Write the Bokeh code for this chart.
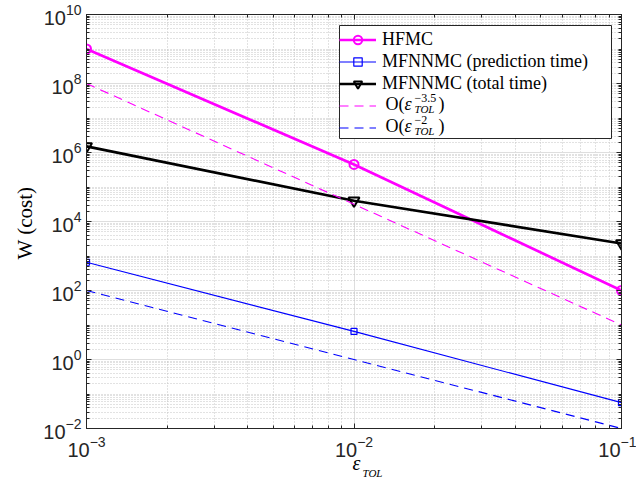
from bokeh.plotting import figure
from bokeh.models import (LogAxis, FixedTicker, Legend, LegendItem, Title,
                          BoxAnnotation, CustomJSTickFormatter)
from bokeh.core.properties import value
from bokeh.embed import file_html
from bokeh.resources import INLINE

# ---------------- data ----------------
eps_tol = [1e-3, 1e-2, 1e-1]
w_hfmc = [1.0e9, 4.5e5, 1.0e2]
w_mf_pred = [6.6e2, 6.5, 5.6e-2]
w_mf_total = [1.5e6, 4.0e4, 2.3e3]
w_ref_35 = [1.0e8, 3.16e4, 1.0e1]      # O(eps^-3.5) guide
w_ref_2 = [1.0e2, 1.0e0, 1.0e-2]       # O(eps^-2) guide

x_major = [1e-3, 1e-2, 1e-1]
y_major = [1e-2, 1e0, 1e2, 1e4, 1e6, 1e8, 1e10]
x_minor = [m * 10.0 ** k for k in (-3, -2) for m in range(2, 10)]
y_minor = [m * 10.0 ** k for k in range(-2, 10) for m in range(2, 10)] + \
          [10.0 ** k for k in range(-1, 10, 2)]

MAG = "#FF00FF"
BLUE = "#0000FF"
AX = "#262626"
SERIF = "Liberation Serif"
SANS = "Liberation Sans"

L, R, T, B = 86, 621, 14, 428   # frame box in page pixels

p = figure(width=636, height=491, x_axis_type="log", y_axis_type="log",
           x_range=(1e-3, 1e-1), y_range=(1e-2, 1e10),
           output_backend="svg", toolbar_location=None,
           min_border_left=L, min_border_right=636 - R,
           min_border_top=T, min_border_bottom=491 - B)
p.background_fill_color = "white"
p.border_fill_color = "white"
p.outline_line_color = AX
p.outline_line_width = 1

xt = FixedTicker(ticks=x_major, minor_ticks=x_minor)
yt = FixedTicker(ticks=y_major, minor_ticks=y_minor)
p.xaxis.ticker = xt
p.yaxis.ticker = yt

for ax in (p.xaxis[0], p.yaxis[0]):
    ax.axis_line_color = AX
    ax.major_tick_line_color = AX
    ax.minor_tick_line_color = AX
    ax.major_tick_in = 5
    ax.major_tick_out = 0
    ax.minor_tick_in = 3
    ax.minor_tick_out = 0
    ax.major_label_text_font = SANS
    ax.major_label_text_font_size = "20px"
    ax.major_label_text_color = AX
p.xaxis.major_label_standoff = 7
p.yaxis.major_label_standoff = 5

# box ticks on top / right
blank = CustomJSTickFormatter(code="return ''")
for side, tk in (("above", xt), ("right", yt)):
    a = LogAxis(ticker=tk, formatter=blank)
    a.axis_line_color = AX
    a.major_tick_line_color = AX
    a.minor_tick_line_color = AX
    a.major_tick_in = 5
    a.major_tick_out = 0
    a.minor_tick_in = 3
    a.minor_tick_out = 0
    a.major_label_standoff = 0
    a.major_label_text_font_size = "0px"
    p.add_layout(a, side)

for g in (p.xgrid[0], p.ygrid[0]):
    g.grid_line_color = "#dedede"
    g.grid_line_width = 1
    g.minor_grid_line_color = "#c4c4c4"
    g.minor_grid_line_dash = "1 2"
    g.minor_grid_line_width = 1

# ---------------- series ----------------
r1 = p.line(eps_tol, w_hfmc, line_color=MAG, line_width=2.7)
m1 = p.scatter(eps_tol, w_hfmc, marker="circle", size=9, fill_color=None,
               line_color=MAG, line_width=2)
r2 = p.line(eps_tol, w_mf_pred, line_color=BLUE, line_width=1.2)
m2 = p.scatter(eps_tol, w_mf_pred, marker="square", size=6, fill_color=None,
               line_color=BLUE, line_width=1.2)
r3 = p.line(eps_tol, w_mf_total, line_color="black", line_width=2.7)
m3 = p.scatter(eps_tol, w_mf_total, marker="inverted_triangle", size=11,
               fill_color=None, line_color="black", line_width=2)
r4 = p.line(eps_tol, w_ref_35, line_color=MAG, line_width=1.1, line_dash="9 6")
r5 = p.line(eps_tol, w_ref_2, line_color=BLUE, line_width=1.1, line_dash="9 6")

# ---------------- legend ----------------
LG_L, LG_R, LG_T, LG_B = 339, 611, 25, 138
p.add_layout(BoxAnnotation(left=LG_L - L, right=LG_R - L,
                           top=B - LG_T, bottom=B - LG_B,
                           left_units="screen", right_units="screen",
                           top_units="screen", bottom_units="screen",
                           fill_color="white", fill_alpha=1,
                           line_color=AX, line_width=1, line_alpha=1))

leg = Legend(items=[
    LegendItem(label="HFMC", renderers=[r1, m1]),
    LegendItem(label="MFNNMC (prediction time)", renderers=[r2, m2]),
    LegendItem(label="MFNNMC (total time)", renderers=[r3, m3]),
    LegendItem(label=" ", renderers=[r4]),
    LegendItem(label=" ", renderers=[r5]),
], location=(LG_L - L, B - LG_B))
leg.margin = 0
leg.padding = 2
leg.spacing = 1
leg.label_height = 21
leg.glyph_height = 21
leg.glyph_width = 37
leg.label_standoff = 6
leg.label_width = 225
leg.label_text_font = SERIF
leg.label_text_font_size = "18px"
leg.label_text_color = "black"
leg.border_line_color = None
leg.background_fill_alpha = 0
p.add_layout(leg, "center")


def px_to_data(px, py):
    return (10 ** (-3 + 2.0 * (px - L) / (R - L)),
            10 ** (10 - 12.0 * (py - T) / (B - T)))


def gtxt(s, px, py, size, style="normal"):
    x, y = px_to_data(px, py)
    p.text(x=[x], y=[y], text=[s], text_font=value(SERIF),
           text_font_size=value(f"{size}px"), text_font_style=value(style),
           text_baseline=value("middle"), text_align=value("left"),
           text_color="black", level="overlay")


# legend math rows: O(eps_TOL^-3.5), O(eps_TOL^-2)
for cy, sup in ((103.5, "\u22123.5"), (125.5, "\u22122")):
    gtxt("O(", 385, cy, 18)
    gtxt("\u03b5", 404, cy, 18, "italic")
    gtxt(sup, 414, cy - 6, 12)
    gtxt("TOL", 414, cy + 5, 11, "italic")
    gtxt(")", 438, cy, 18)

# axis labels (titles in the side panels)
p.add_layout(Title(text="\u03b5", align="left", offset=266, standoff=-19,
                   text_font=SERIF, text_font_size="20px",
                   text_font_style="italic", text_color="black"), "below")
p.add_layout(Title(text="TOL", align="left", offset=276, standoff=0,
                   text_font=SERIF, text_font_size="11px",
                   text_font_style="italic", text_color="black"), "below")
p.add_layout(Title(text="W (cost)", align="left", offset=169, standoff=8,
                   text_font=SERIF, text_font_size="21px",
                   text_font_style="normal", text_color="black"), "left")

open("out.html", "w").write(file_html(p, INLINE))
